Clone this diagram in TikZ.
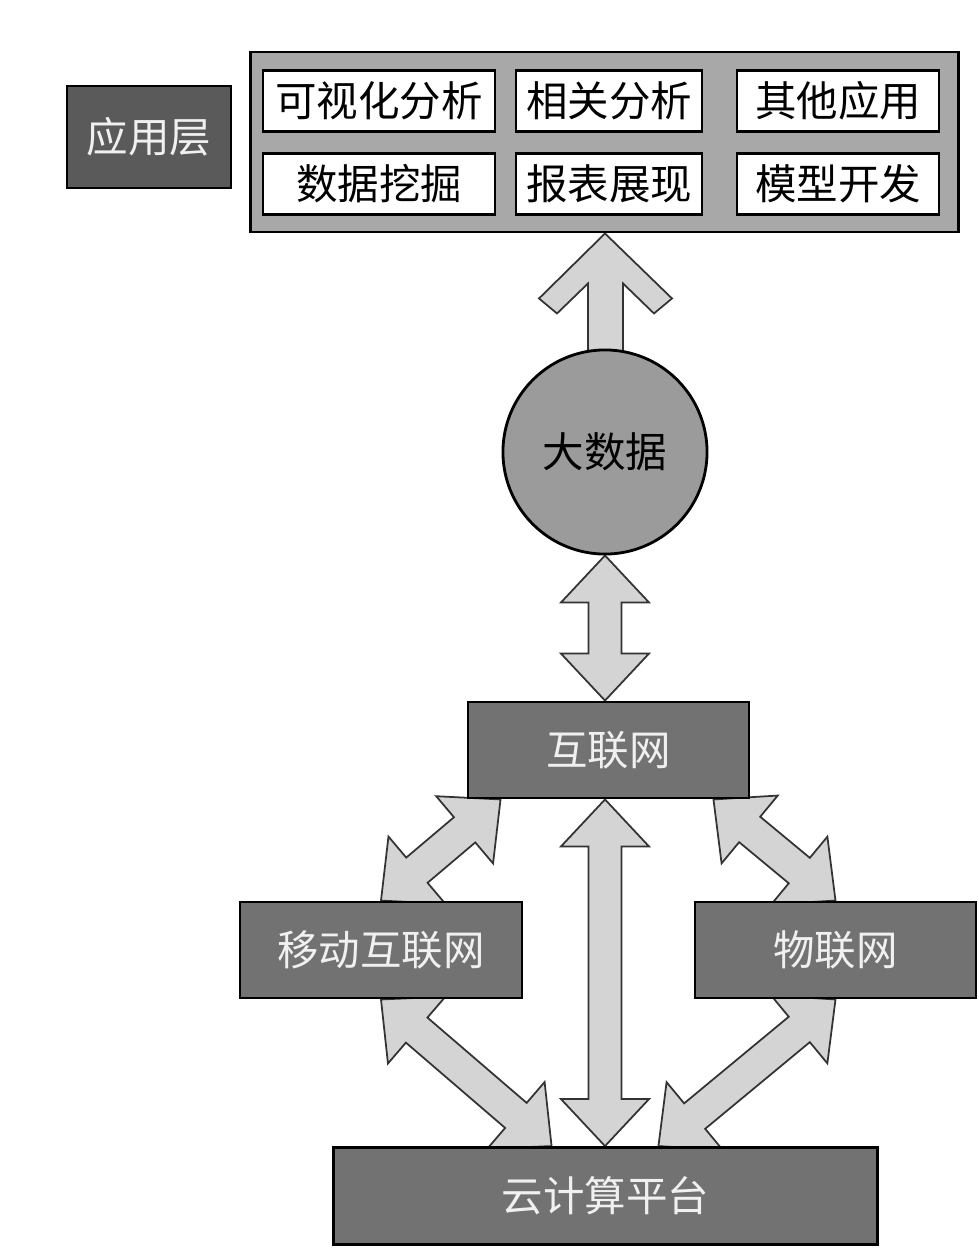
\documentclass[tikz,border=0pt]{standalone}
\usepackage{fontspec}
\setmainfont{Noto Sans CJK SC}
\usepackage{xcolor}
\usepackage{tikz}
\usetikzlibrary{calc,positioning,backgrounds}
\definecolor{AppGray}{HTML}{A8A8A8}
\definecolor{LayerGray}{HTML}{5A5A5A}
\definecolor{NetGray}{HTML}{727272}
\definecolor{DataGray}{HTML}{9B9B9B}
\definecolor{ArrowGray}{HTML}{D4D4D4}
\definecolor{SoftWhite}{HTML}{F0F0F0}
% two-headed block arrow between two named points
\newcommand{\twoway}[2]{%
  \draw[flowarrow] (#1)
    -- ($ ($(#1)!0.47cm!(#2)$) !0.44cm!90:(#2) $)
    -- ($ ($(#1)!0.47cm!(#2)$) !0.165cm!90:(#2) $)
    -- ($ ($(#2)!0.47cm!(#1)$) !0.165cm!-90:(#1) $)
    -- ($ ($(#2)!0.47cm!(#1)$) !0.44cm!-90:(#1) $)
    -- (#2)
    -- ($ ($(#2)!0.47cm!(#1)$) !0.44cm!90:(#1) $)
    -- ($ ($(#2)!0.47cm!(#1)$) !0.165cm!90:(#1) $)
    -- ($ ($(#1)!0.47cm!(#2)$) !0.165cm!-90:(#2) $)
    -- ($ ($(#1)!0.47cm!(#2)$) !0.44cm!-90:(#2) $)
    -- cycle;}
\begin{document}
\begin{tikzpicture}[x=0.01cm, y=-0.01cm, font=\fontsize{11.8}{14}\selectfont]
\tikzset{frame/.style={draw=black, line width=0.8pt, inner sep=0pt}, appbox/.style={frame, fill=white, minimum height=0.61cm}, netbox/.style={frame, fill=NetGray, text=SoftWhite, minimum height=0.96cm}, flowarrow/.style={draw=black!80, line width=0.5pt, fill=ArrowGray, line join=miter}}
\useasboundingbox (0,0) rectangle (978,1248);
\node[frame, fill=AppGray, minimum width=7.07cm, minimum height=1.8cm] (apps) at (604.5,142) {};
\node[frame, fill=LayerGray, text=SoftWhite, minimum width=1.64cm, minimum height=1.02cm] (layer) at (149,137) {应用层};
\node[appbox, minimum width=2.32cm] (visual) at (379,101) {可视化分析};
\node[appbox, minimum width=1.86cm] (corr) at (609,101) {相关分析};
\node[appbox, minimum width=2.02cm] (other) at (838,101) {其他应用};
\node[appbox, minimum width=2.32cm] (mining) at (379,184) {数据挖掘};
\node[appbox, minimum width=1.86cm] (report) at (609,184) {报表展现};
\node[appbox, minimum width=2.02cm] (model) at (838,184) {模型开发};
\node[frame, circle, fill=DataGray, minimum size=2.04cm] (bigdata) at (605,452) {大数据};
\node[netbox, minimum width=2.81cm] (inet) at (608.5,750) {互联网};
\node[netbox, minimum width=2.82cm] (mobile) at (381,950) {移动互联网};
\node[netbox, minimum width=2.81cm] (iot) at (835.5,950) {物联网};
\node[netbox, minimum width=5.43cm, minimum height=0.97cm] (cloud) at (605.5,1196) {云计算平台};
% arrow end points
\coordinate (apptip) at (bigdata.north |- apps.south);
\coordinate (inettop) at (bigdata.south |- inet.north);
\coordinate (inetbot) at (bigdata.south |- inet.south);
\coordinate (cloudtop) at (bigdata.south |- cloud.north);
\coordinate (inetl) at ([xshift=0.34cm]inet.south west);
\coordinate (inetr) at ([xshift=-0.37cm]inet.south east);
\coordinate (cloudl) at ([xshift=2.19cm]cloud.north west);
\coordinate (cloudr) at ([xshift=-2.2cm]cloud.north east);
\begin{scope}[on background layer]
\draw[flowarrow] (apptip) -- ++(-66,65) -- ++(18,15) -- ++(31,-30) -- ++(0,90) -- ++(35,0) -- ++(0,-90) -- ++(31,30) -- ++(18,-15) -- cycle;
\twoway{bigdata.south}{inettop}
\twoway{inetbot}{cloudtop}
\twoway{mobile.north}{inetl}
\twoway{iot.north}{inetr}
\twoway{mobile.south}{cloudl}
\twoway{iot.south}{cloudr}
\end{scope}
\end{tikzpicture}
\end{document}
